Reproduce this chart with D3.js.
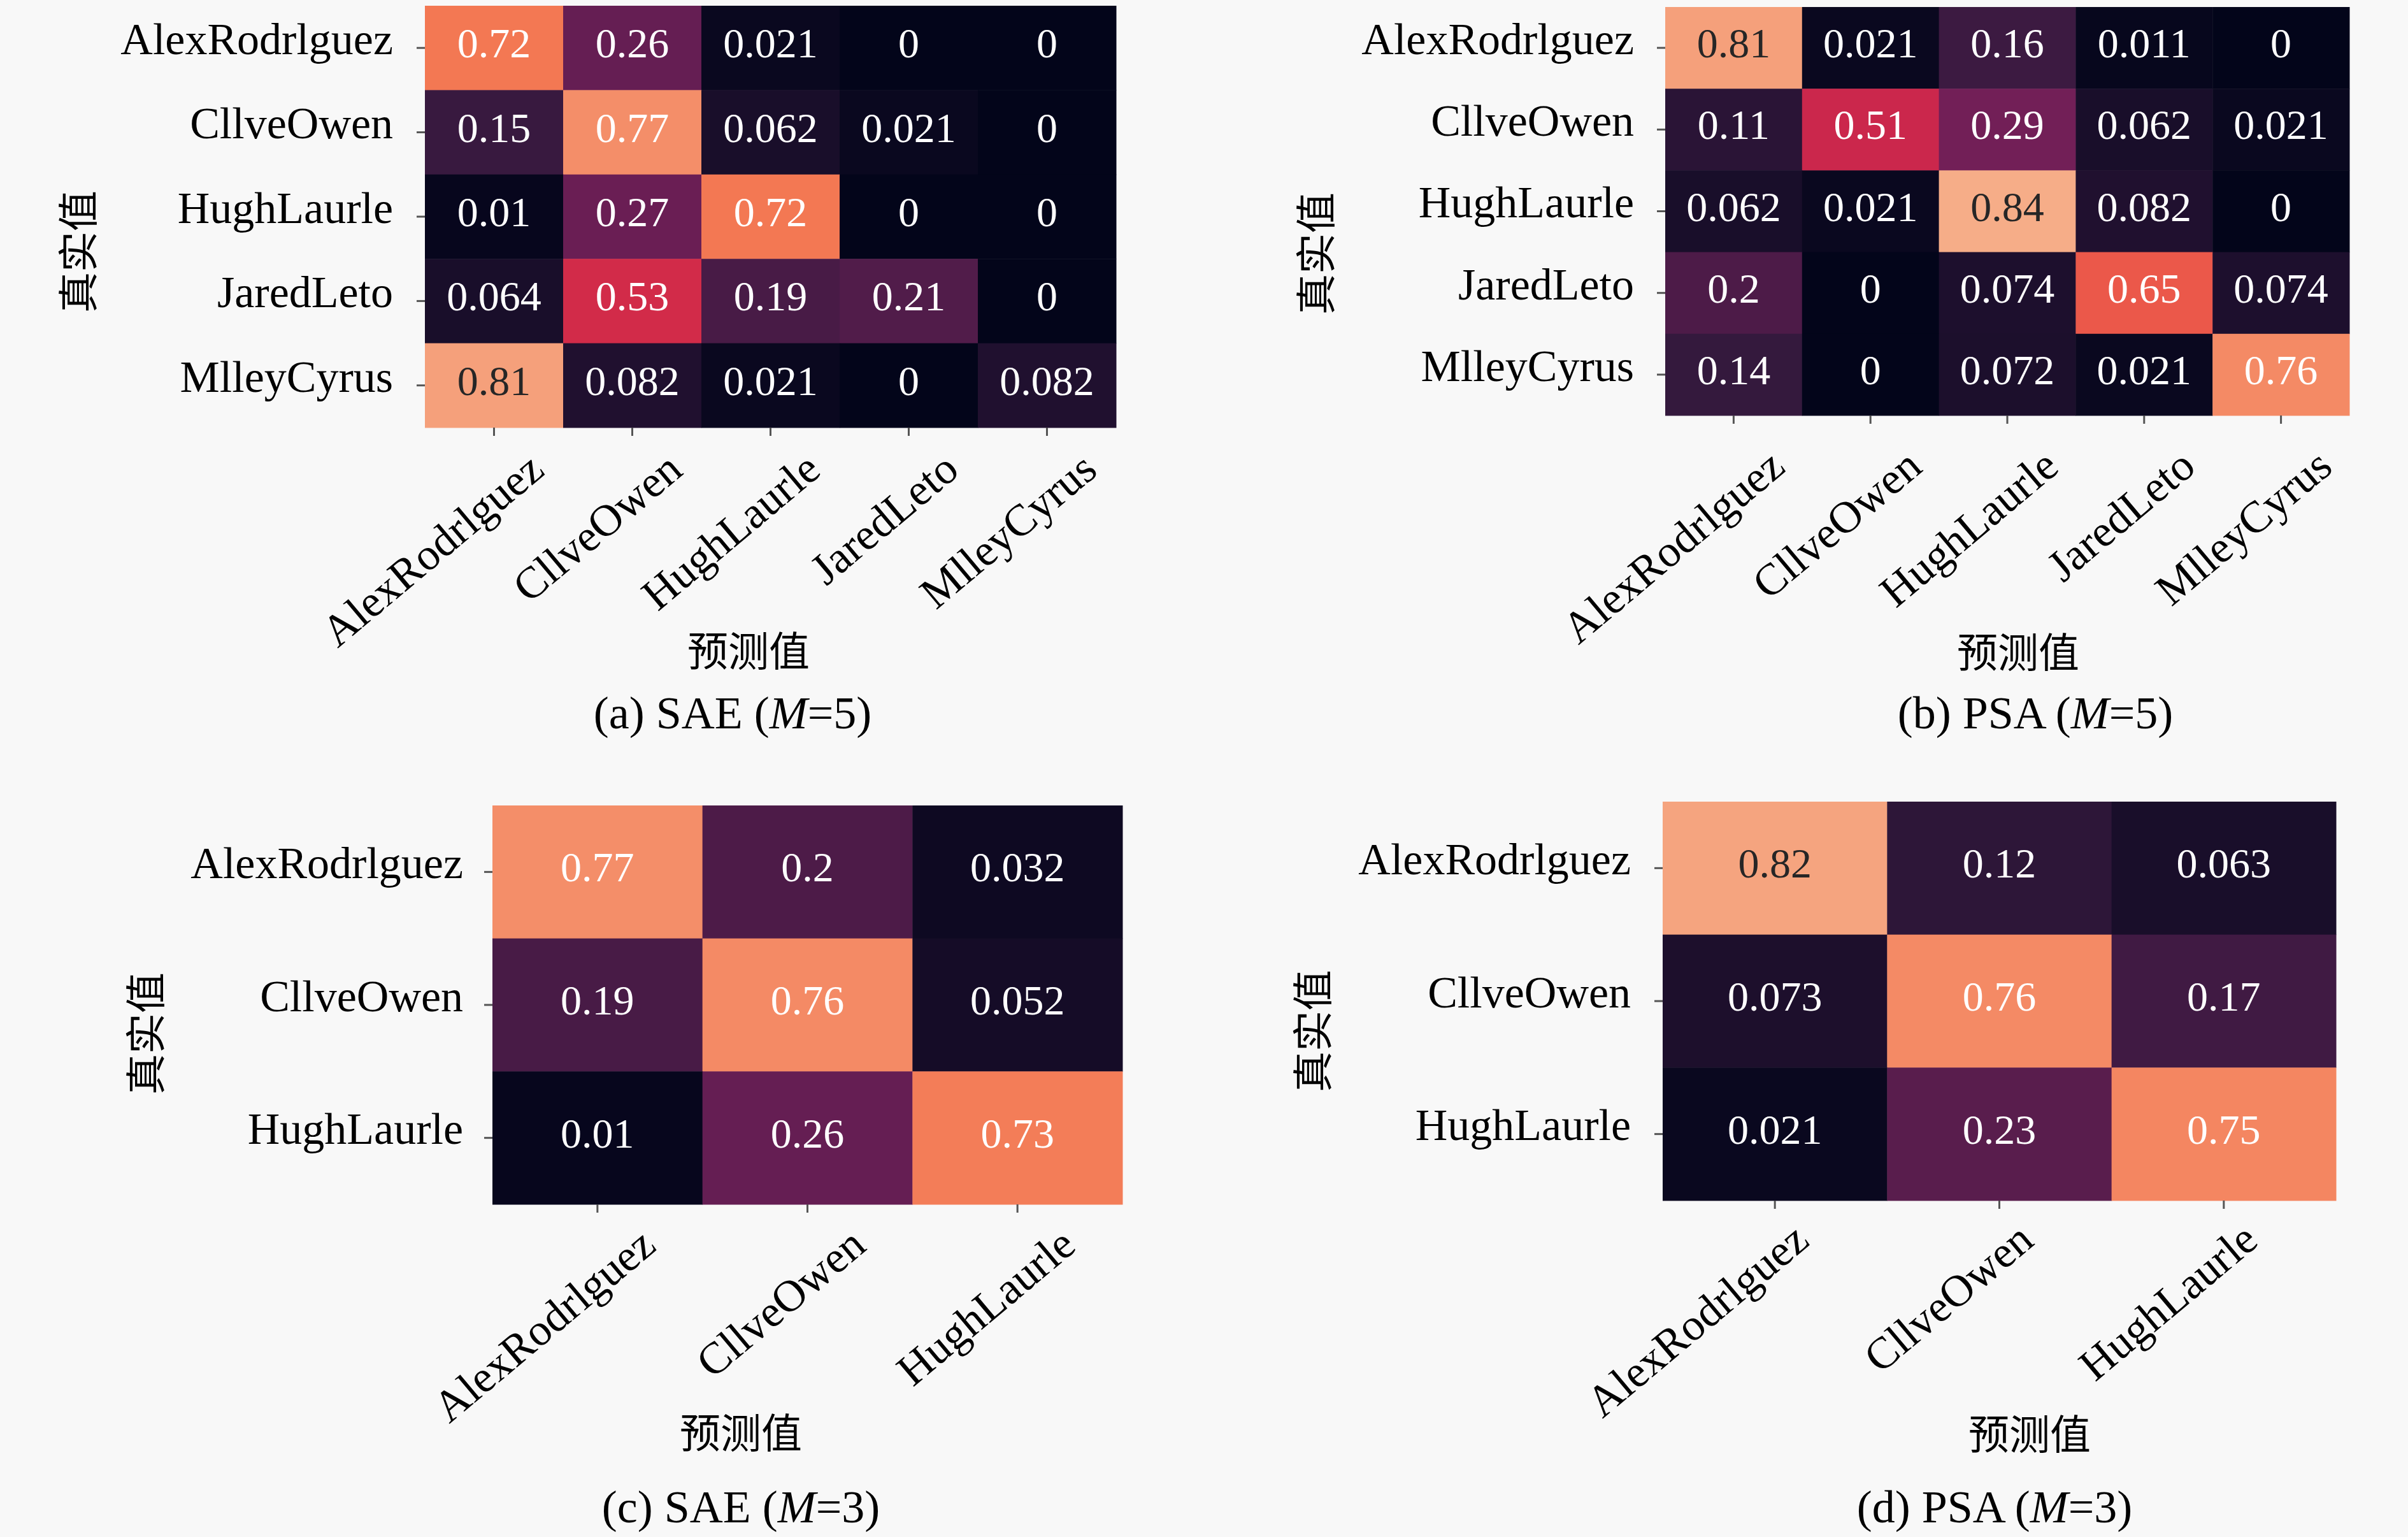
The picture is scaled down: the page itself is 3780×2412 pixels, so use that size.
<!DOCTYPE html>
<html>
<head>
<meta charset="utf-8">
<script src="https://cdn.jsdelivr.net/npm/d3@7"></script>
<style>
  html, body { margin: 0; padding: 0; background: #f8f8f8; }
  svg { display: block; }
</style>
</head>
<body>
<svg id="chart" width="3780" height="2412"></svg>
<script>
// ---------------- data ----------------
const labels5 = ["AlexRodrlguez", "CllveOwen", "HughLaurle", "JaredLeto", "MlleyCyrus"];
const labels3 = ["AlexRodrlguez", "CllveOwen", "HughLaurle"];

const saeM5 = [
  [0.72, 0.26, 0.021, 0, 0],
  [0.15, 0.77, 0.062, 0.021, 0],
  [0.01, 0.27, 0.72, 0, 0],
  [0.064, 0.53, 0.19, 0.21, 0],
  [0.81, 0.082, 0.021, 0, 0.082]
];
const psaM5 = [
  [0.81, 0.021, 0.16, 0.011, 0],
  [0.11, 0.51, 0.29, 0.062, 0.021],
  [0.062, 0.021, 0.84, 0.082, 0],
  [0.2, 0, 0.074, 0.65, 0.074],
  [0.14, 0, 0.072, 0.021, 0.76]
];
const saeM3 = [
  [0.77, 0.2, 0.032],
  [0.19, 0.76, 0.052],
  [0.01, 0.26, 0.73]
];
const psaM3 = [
  [0.82, 0.12, 0.063],
  [0.073, 0.76, 0.17],
  [0.021, 0.23, 0.75]
];

const yTitle = "真实值";
const xTitle = "预测值";
const captions = [
  ["(a) SAE (", "M", "=5)"],
  ["(b) PSA (", "M", "=5)"],
  ["(c) SAE (", "M", "=3)"],
  ["(d) PSA (", "M", "=3)"]
];

// ---------------- colour map (seaborn "rocket") ----------------
const rocketStops = ["#03051a", "#35193e", "#701f57", "#ad1759", "#e13342", "#f37651", "#f6b48f", "#faebdd"];
const rocket = d3.piecewise(d3.interpolateRgb, rocketStops);
const color = d3.scaleSequential(rocket).domain([0, 1]);

function luminance(c) {
  const rgb = d3.rgb(c);
  const lin = v => { v /= 255; return v <= 0.03928 ? v / 12.92 : Math.pow((v + 0.055) / 1.055, 2.4); };
  return 0.2126 * lin(rgb.r) + 0.7152 * lin(rgb.g) + 0.0722 * lin(rgb.b);
}
const fmt = d3.format(".2~g");

// ---------------- layout ----------------
const panels = [
  { data: saeM5, labels: labels5, cap: captions[0],
    x0: 667, x1: 1752, y0: 9, y1: 671, yLabPad: 50, xLab: [82, 72],
    yT: [118, 395], xT: [1175, 1017], capPos: [1150, 1143] },
  { data: psaM5, labels: labels5, cap: captions[1],
    x0: 2614, x1: 3688, y0: 11, y1: 652, yLabPad: 49, xLab: [84, 86],
    yT: [2061, 398], xT: [3168, 1019], capPos: [3195, 1143] },
  { data: saeM3, labels: labels3, cap: captions[2],
    x0: 773, x1: 1762, y0: 1264, y1: 1890, yLabPad: 46, xLab: [95, 70],
    yT: [224, 1622], xT: [1163, 2244], capPos: [1163, 2389] },
  { data: psaM3, labels: labels3, cap: captions[3],
    x0: 2610, x1: 3667, y0: 1258, y1: 1884, yLabPad: 50, xLab: [57, 68],
    yT: [2056, 1618], xT: [3186, 2246], capPos: [3131, 2389] }
];

const svg = d3.select("#chart");
svg.append("rect").attr("width", 3780).attr("height", 2412).attr("fill", "#f8f8f8");

const latin = "'Liberation Serif', 'Times New Roman', serif";
const cjk = "'Noto Sans CJK SC', 'Noto Sans CJK JP', sans-serif";
const tickLen = 13;

panels.forEach(p => {
  const g = svg.append("g");
  const x = d3.scaleBand().domain(p.labels).range([p.x0, p.x1]);
  const y = d3.scaleBand().domain(p.labels).range([p.y0, p.y1]);

  const cells = [];
  p.data.forEach((row, i) => row.forEach((v, j) => cells.push({ r: p.labels[i], c: p.labels[j], v })));

  g.selectAll("rect.cell").data(cells).join("rect")
    .attr("class", "cell")
    .attr("x", d => x(d.c))
    .attr("y", d => y(d.r))
    .attr("width", x.bandwidth() + 0.5)
    .attr("height", y.bandwidth() + 0.5)
    .attr("fill", d => color(d.v));

  g.selectAll("text.val").data(cells).join("text")
    .attr("class", "val")
    .attr("x", d => x(d.c) + x.bandwidth() / 2)
    .attr("y", d => y(d.r) + y.bandwidth() / 2 + 15)
    .attr("text-anchor", "middle")
    .attr("font-family", latin)
    .attr("font-size", 66)
    .attr("fill", d => luminance(color(d.v)) > 0.408 ? "#262626" : "#ffffff")
    .text(d => fmt(d.v));

  // y axis
  const ya = g.append("g")
    .attr("transform", `translate(${p.x0},0)`)
    .call(d3.axisLeft(y).tickSize(tickLen).tickPadding(p.yLabPad - tickLen));
  ya.select(".domain").remove();
  ya.selectAll(".tick line").attr("stroke", "#555").attr("stroke-width", 3);
  ya.selectAll(".tick text")
    .attr("font-family", latin).attr("font-size", 70).attr("fill", "#000")
    .attr("dy", "0.14em");

  // x axis
  const xa = g.append("g")
    .attr("transform", `translate(0,${p.y1})`)
    .call(d3.axisBottom(x).tickSize(tickLen));
  xa.select(".domain").remove();
  xa.selectAll(".tick line").attr("stroke", "#555").attr("stroke-width", 3);
  xa.selectAll(".tick text")
    .attr("font-family", latin).attr("font-size", 70).attr("fill", "#000")
    .attr("x", 0).attr("y", 0).attr("dy", 0)
    .attr("text-anchor", "end")
    .attr("transform", `translate(${p.xLab[0]},${p.xLab[1]}) rotate(-40)`);

  // axis titles
  g.append("text")
    .attr("transform", `translate(${p.yT[0]},${p.yT[1]}) rotate(-90)`)
    .attr("text-anchor", "middle")
    .attr("dominant-baseline", "central")
    .attr("font-family", cjk).attr("font-size", 64).attr("fill", "#000")
    .text(yTitle);

  g.append("text")
    .attr("x", p.xT[0]).attr("y", p.xT[1])
    .attr("text-anchor", "middle")
    .attr("dominant-baseline", "central")
    .attr("font-family", cjk).attr("font-size", 64).attr("fill", "#000")
    .text(xTitle);

  // caption
  const cap = g.append("text")
    .attr("x", p.capPos[0]).attr("y", p.capPos[1])
    .attr("text-anchor", "middle")
    .attr("font-family", latin).attr("font-size", 72).attr("fill", "#000");
  cap.append("tspan").text(p.cap[0]);
  cap.append("tspan").attr("font-style", "italic").text(p.cap[1]);
  cap.append("tspan").text(p.cap[2]);
});
</script>
</body>
</html>
